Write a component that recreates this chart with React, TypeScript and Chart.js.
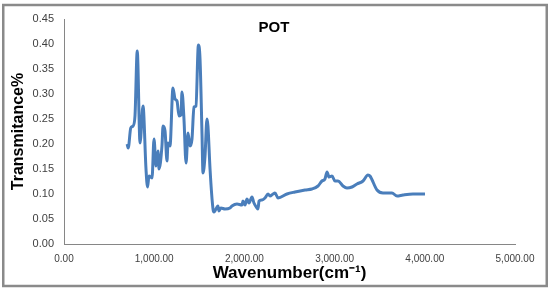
import React, { useEffect, useRef } from "react";
import { Chart, registerables } from "chart.js";

Chart.register(...registerables);

const wavenumbers: number[] = [
  700, 712, 740, 765, 787, 812, 843, 876, 909, 926, 942, 976, 998, 1020, 1042, 1053,
  1086, 1098, 1120, 1142, 1153, 1175, 1208, 1231, 1253, 1275, 1297, 1308, 1330, 1353,
  1375, 1397, 1419, 1441, 1463, 1490, 1508, 1530, 1541, 1563, 1585, 1596, 1619, 1652,
  1663, 1707, 1718, 1740, 1785, 1840, 1862, 1918, 1973, 1984, 2007, 2029, 2051, 2084,
  2106, 2140, 2151, 2162, 2195, 2228, 2262, 2284, 2317, 2339, 2373, 2472, 2561, 2672,
  2749, 2816, 2860, 2893, 2916, 2938, 2971, 3004, 3038, 3093, 3137, 3193, 3248, 3315,
  3370, 3392, 3470, 3536, 3636, 3692, 3758, 3869, 4002,
];

const transmittance: number[] = [
  0.2, 0.192, 0.232, 0.236, 0.256, 0.386, 0.202, 0.276, 0.15, 0.114, 0.136, 0.132, 0.21,
  0.156, 0.186, 0.15, 0.196, 0.236, 0.226, 0.166, 0.202, 0.196, 0.312, 0.29, 0.286, 0.256,
  0.258, 0.304, 0.25, 0.162, 0.222, 0.196, 0.21, 0.274, 0.276, 0.398, 0.37, 0.22, 0.142,
  0.175, 0.25, 0.236, 0.15, 0.07, 0.064, 0.076, 0.066, 0.072, 0.07, 0.072, 0.076, 0.08,
  0.078, 0.086, 0.078, 0.09, 0.082, 0.094, 0.082, 0.072, 0.07, 0.086, 0.088, 0.092, 0.1,
  0.096, 0.1, 0.102, 0.092, 0.1, 0.104, 0.108, 0.11, 0.116, 0.126, 0.13, 0.144, 0.134,
  0.136, 0.126, 0.126, 0.116, 0.112, 0.114, 0.12, 0.126, 0.138, 0.136, 0.108, 0.102,
  0.102, 0.096, 0.098, 0.1, 0.1,
];

const chartTitle = "POT";
const xAxisTitle = "Wavenumber(cm\u207B\u00B9)";
const yAxisTitle = "Transmitance%";

const frameAndTitle = {
  id: "frameAndTitle",
  afterDraw(chart: any) {
    const ctx = chart.ctx;
    ctx.save();
    ctx.strokeStyle = "#8a8a8a";
    ctx.lineWidth = 2.5;
    ctx.strokeRect(3.25, 5, 543.5, 281);
    ctx.fillStyle = "#000000";
    ctx.font = "bold 15px 'Liberation Sans', Arial, sans-serif";
    ctx.textAlign = "center";
    ctx.textBaseline = "middle";
    ctx.fillText(chartTitle, 274, 28);
    ctx.restore();
  },
};

export default function App() {
  const canvasRef = useRef<HTMLCanvasElement | null>(null);

  useEffect(() => {
    document.body.style.margin = "0";
    const canvas = canvasRef.current;
    if (!canvas) return;
    const points = wavenumbers.map((w, i) => ({ x: w, y: transmittance[i] }));
    const chart = new Chart(canvas, {
      type: "scatter",
      data: {
        datasets: [
          {
            data: points,
            showLine: true,
            borderColor: "#4a7ebb",
            backgroundColor: "#4a7ebb",
            borderWidth: 3,
            pointRadius: 0,
            cubicInterpolationMode: "monotone",
          } as any,
        ],
      },
      options: {
        animation: false,
        responsive: false,
        maintainAspectRatio: false,
        layout: { padding: { top: 19, right: 36, left: 0, bottom: 0 } },
        plugins: { legend: { display: false }, tooltip: { enabled: false }, title: { display: false } },
        scales: {
          x: {
            type: "linear",
            min: 0,
            max: 5000,
            grid: { display: false, drawTicks: false },
            border: { display: true, color: "#868686", width: 1 },
            ticks: {
              stepSize: 1000,
              padding: 9,
              color: "#404040",
              font: { family: "'Liberation Sans', Arial, sans-serif", size: 10 },
              maxRotation: 0,
              callback: (v: any) =>
                Number(v).toLocaleString("en-US", { minimumFractionDigits: 2, maximumFractionDigits: 2 }),
            },
            title: {
              display: true,
              text: xAxisTitle,
              color: "#000000",
              font: { family: "'Liberation Sans', Arial, sans-serif", size: 17, weight: "bold" },
              padding: { top: 0, bottom: 6 },
            },
            afterFit: (scale: any) => {
              scale.height = 46;
            },
          },
          y: {
            type: "linear",
            min: 0,
            max: 0.45,
            grid: { display: false, drawTicks: false },
            border: { display: true, color: "#868686", width: 1 },
            ticks: {
              stepSize: 0.05,
              padding: 10,
              color: "#404040",
              font: { family: "'Liberation Sans', Arial, sans-serif", size: 11 },
              callback: (v: any) => Number(v).toFixed(2),
            },
            title: {
              display: true,
              text: yAxisTitle,
              color: "#000000",
              font: { family: "'Liberation Sans', Arial, sans-serif", size: 16, weight: "bold" },
              padding: { top: 9, bottom: 0 },
            },
            afterFit: (scale: any) => {
              scale.width = 64;
            },
          },
        },
      },
      plugins: [frameAndTitle],
    });
    return () => chart.destroy();
  }, []);

  return (
    <div style={{ position: "relative", width: 551, height: 290, background: "#ffffff" }}>
      <canvas ref={canvasRef} width={551} height={290} style={{ display: "block", width: 551, height: 290 }} />
    </div>
  );
}
